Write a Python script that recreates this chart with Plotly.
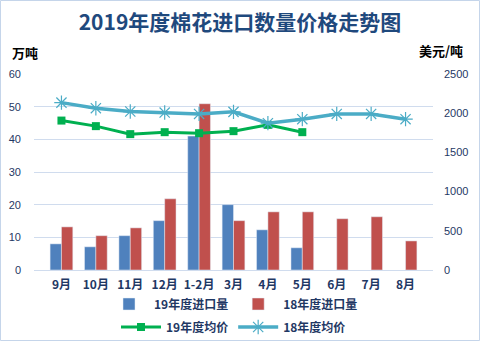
import plotly.graph_objects as go

months = ["9月", "10月", "11月", "12月", "1-2月", "3月", "4月", "5月", "6月", "7月", "8月"]
imp19 = [8.0, 7.1, 10.5, 15.1, 41.0, 20.0, 12.3, 6.8, None, None, None]
imp18 = [13.2, 10.5, 12.9, 21.8, 50.9, 15.1, 17.8, 17.8, 15.7, 16.3, 8.9]
price19 = [1906, 1835, 1733, 1758, 1745, 1771, 1851, 1758, None, None, None]
price18 = [2135, 2064, 2021, 2008, 1991, 2017, 1873, 1924, 1991, 1991, 1924]

W, H = 480, 341
L, R, T, B = 34, 47, 74, 71
pw, ph = W - L - R, H - T - B

def px(x):
    return (x - L) / pw

def py(y):
    return (H - B - y) / ph

navy = "#1F3864"
grid = "#D0DCEE"
font_num = "Liberation Sans, Noto Sans CJK SC"
font_cjk = "Noto Sans CJK SC"

fig = go.Figure()
fig.add_trace(go.Bar(x=months, y=imp19, name="19年度进口量", marker_color="#4F81BD", legend="legend"))
fig.add_trace(go.Bar(x=months, y=imp18, name="18年度进口量", marker_color="#C0504D", legend="legend"))
fig.add_trace(go.Scatter(x=months, y=price19, name="19年度均价", yaxis="y2", mode="lines+markers",
                         line=dict(color="#00B050", width=3),
                         marker=dict(symbol="square", size=8, color="#00B050"), legend="legend2"))
fig.add_trace(go.Scatter(x=months, y=price18, name="18年度均价", yaxis="y2", mode="lines+markers",
                         line=dict(color="#4BACC6", width=3.5),
                         marker=dict(symbol="asterisk-open", size=12, line=dict(color="#4BACC6", width=1.2)),
                         legend="legend2"))

fig.update_layout(
    width=W, height=H,
    margin=dict(l=L, r=R, t=T, b=B, autoexpand=False),
    paper_bgcolor="white", plot_bgcolor="white",
    barmode="group", bargap=0.34, bargroupgap=0,
    font=dict(family=font_num, color=navy, size=11),
    title=dict(text="<b>2019年度棉花进口数量价格走势图</b>", x=0.5, xanchor="center",
               y=1 - 23 / H, yanchor="middle",
               font=dict(family=font_cjk, size=21, color="#1F497D")),
    xaxis=dict(showgrid=False, showline=True, linecolor=grid, linewidth=1,
               tickfont=dict(family=font_cjk, size=12, color=navy, weight="bold"),
               ticks="", ticklabelstandoff=4),
    yaxis=dict(range=[0, 60], dtick=10, showgrid=True, gridcolor=grid, gridwidth=1,
               zeroline=False, showline=False, ticks="", ticklabelstandoff=12,
               tickfont=dict(size=11, color=navy)),
    yaxis2=dict(range=[0, 2500], dtick=500, overlaying="y", side="right", showgrid=False,
                zeroline=False, showline=False, ticks="", ticklabelstandoff=10,
                tickfont=dict(size=11, color=navy)),
    legend=dict(orientation="h", x=0.5, xanchor="center", y=py(304), yanchor="middle",
                font=dict(family=font_cjk, size=12, color=navy, weight="bold"),
                itemwidth=40, tracegroupgap=0, bgcolor="rgba(0,0,0,0)"),
    legend2=dict(orientation="h", x=0.5, xanchor="center", y=py(327), yanchor="middle",
                 font=dict(family=font_cjk, size=12, color=navy, weight="bold"),
                 itemwidth=40, bgcolor="rgba(0,0,0,0)"),
    showlegend=True,
)

fig.add_annotation(text="<b>万吨</b>", xref="paper", yref="paper", x=px(25), y=py(53),
                   xanchor="center", yanchor="middle", showarrow=False,
                   font=dict(family=font_cjk, size=13, color="#000000"))
fig.add_annotation(text="<b>美元/吨</b>", xref="paper", yref="paper", x=px(441), y=py(50),
                   xanchor="center", yanchor="middle", showarrow=False,
                   font=dict(family=font_cjk, size=13, color="#000000"))

fig.add_shape(type="rect", xref="paper", yref="paper",
              x0=px(0.5), x1=px(W - 0.5), y0=py(H - 0.5), y1=py(0.5),
              line=dict(color="#C5D5EA", width=1), fillcolor="rgba(0,0,0,0)", layer="below")

fig.write_html("out.html")
